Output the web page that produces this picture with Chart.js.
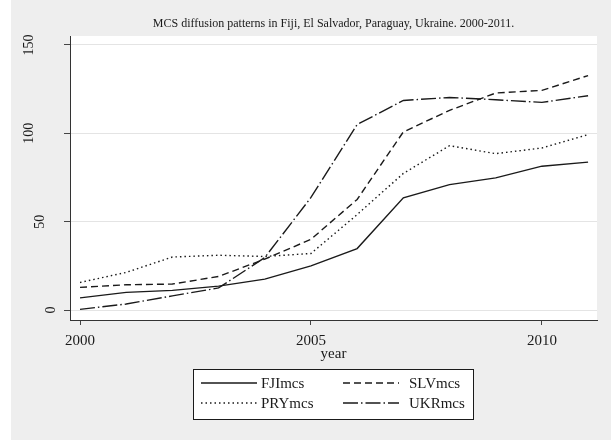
<!DOCTYPE html>
<html>
<head>
<meta charset="utf-8">
<script src="https://cdn.jsdelivr.net/npm/chart.js@4.4.1/dist/chart.umd.min.js"></script>
<style>
  html, body { margin: 0; padding: 0; background: #eeeeee; }
  canvas { display: block; }
</style>
</head>
<body>
<canvas id="mcsChart" width="611" height="440" style="width:611px;height:440px"></canvas>
<script>
// values
const years = [2000, 2001, 2002, 2003, 2004, 2005, 2006, 2007, 2008, 2009, 2010, 2011];
const fjiMcs = [6.9, 10, 11.1, 13.5, 17.5, 25, 34.8, 63.5, 71, 74.8, 81.4, 83.7];
const slvMcs = [12.8, 14.3, 14.7, 19, 28.8, 40, 62.6, 100.8, 113, 122.8, 124.3, 132.7];
const pryMcs = [15.6, 21.3, 30, 31, 30.3, 32, 54, 77.3, 93, 88.5, 91.7, 99.3];
const ukrMcs = [0.4, 3.4, 8, 12.5, 29.7, 63.7, 105, 118.6, 120.3, 119, 117.5, 121.3];

const seriesNames = ['FJImcs', 'SLVmcs', 'PRYmcs', 'UKRmcs'];
const yTicks = [0, 50, 100, 150];
const xTicks = [2000, 2005, 2010];
const chartTitle = 'MCS diffusion patterns in Fiji, El Salvador, Paraguay, Ukraine. 2000-2011.';
const xTitle = 'year';

const serif = '"Liberation Serif", "Times New Roman", serif';
const ink = '#1a1a1a';

function toPoints(values) {
    return years.map((yr, i) => ({ x: yr, y: values[i] }));
}

function makeSet(label, values, dash) {
    return {
        label: label,
        data: toPoints(values),
        borderColor: ink,
        borderWidth: 1.4,
        borderDash: dash,
        pointRadius: 0,
        tension: 0,
        fill: false
    };
}

// Stata look: grey page, white plot region, title, rotated y labels and boxed legend
const stataLook = {
    id: 'stataLook',
    beforeDraw(chart) {
        const { ctx, chartArea } = chart;
        ctx.save();
        ctx.fillStyle = '#eeeeee';
        ctx.fillRect(0, 0, chart.width, chart.height);
        // thin white margin on the left edge of the exported graph
        ctx.fillStyle = '#ffffff';
        ctx.fillRect(0, 0, 11, chart.height);
        ctx.fillRect(chartArea.left, chartArea.top, chartArea.right - chartArea.left, chartArea.bottom - chartArea.top);
        ctx.restore();
    },
    afterDraw(chart) {
        const { ctx, chartArea } = chart;
        ctx.save();
        ctx.fillStyle = ink;

        // title
        ctx.font = '12px ' + serif;
        ctx.textAlign = 'center';
        ctx.textBaseline = 'middle';
        ctx.fillText(chartTitle, (chartArea.left + chartArea.right) / 2, 24);

        // y tick labels, rotated, shifted by length like Stata does
        const yScale = chart.scales.y;
        ctx.font = '14px ' + serif;
        yTicks.forEach(v => {
            const label = String(v);
            const py = yScale.getPixelForValue(v);
            const cx = 62 - 11 * label.length;
            ctx.save();
            ctx.translate(cx, py);
            ctx.rotate(-Math.PI / 2);
            ctx.fillText(label, 0, 0);
            ctx.restore();
        });

        // legend box
        const box = { x: 193.5, y: 369.5, w: 280, h: 50 };
        ctx.fillStyle = '#ffffff';
        ctx.fillRect(box.x, box.y, box.w, box.h);
        ctx.strokeStyle = ink;
        ctx.lineWidth = 1;
        ctx.strokeRect(box.x, box.y, box.w, box.h);

        const cols = [{ x0: 201, x1: 257, tx: 261 }, { x0: 343, x1: 399, tx: 409 }];
        const rows = [383, 403];
        ctx.font = '15px ' + serif;
        ctx.textAlign = 'left';
        chart.data.datasets.forEach((ds, i) => {
            const c = cols[i % 2];
            const r = rows[Math.floor(i / 2)];
            ctx.beginPath();
            ctx.setLineDash(ds.borderDash || []);
            ctx.lineWidth = ds.borderWidth;
            ctx.strokeStyle = ink;
            ctx.moveTo(c.x0, r);
            ctx.lineTo(c.x1, r);
            ctx.stroke();
            ctx.setLineDash([]);
            ctx.fillStyle = ink;
            ctx.fillText(ds.label, c.tx, r + 1);
        });
        ctx.restore();
    }
};

const ctx = document.getElementById('mcsChart').getContext('2d');
new Chart(ctx, {
    type: 'line',
    data: {
        datasets: [
            makeSet(seriesNames[0], fjiMcs, []),
            makeSet(seriesNames[1], slvMcs, [7, 4]),
            makeSet(seriesNames[2], pryMcs, [1.5, 3]),
            makeSet(seriesNames[3], ukrMcs, [15, 3, 1.5, 3])
        ]
    },
    options: {
        responsive: false,
        animation: false,
        layout: { padding: { top: 36, right: 14, bottom: 77, left: 0 } },
        plugins: {
            legend: { display: false },
            title: { display: false },
            tooltip: { enabled: false }
        },
        scales: {
            x: {
                type: 'linear',
                min: 1999.783,
                max: 2011.193,
                afterBuildTicks: scale => { scale.ticks = xTicks.map(v => ({ value: v })); },
                afterFit: scale => { scale.height = 43; },
                ticks: {
                    color: ink,
                    padding: 7,
                    maxRotation: 0,
                    font: { family: serif, size: 15 },
                    callback: v => String(v)
                },
                grid: {
                    drawOnChartArea: false,
                    drawTicks: true,
                    tickLength: 5,
                    tickColor: '#444444'
                },
                border: { color: '#333333', width: 1 },
                title: {
                    display: true,
                    text: xTitle,
                    color: ink,
                    font: { family: serif, size: 15 },
                    padding: { top: 0, bottom: 0 }
                }
            },
            y: {
                min: -5.64,
                max: 155.08,
                afterBuildTicks: scale => { scale.ticks = yTicks.map(v => ({ value: v })); },
                afterFit: scale => { scale.width = 70; },
                ticks: { display: false },
                grid: {
                    color: '#e4e4e4',
                    lineWidth: 1,
                    drawTicks: true,
                    tickLength: 6,
                    tickColor: '#444444'
                },
                border: { color: '#333333', width: 1 }
            }
        }
    },
    plugins: [stataLook]
});
</script>
</body>
</html>
